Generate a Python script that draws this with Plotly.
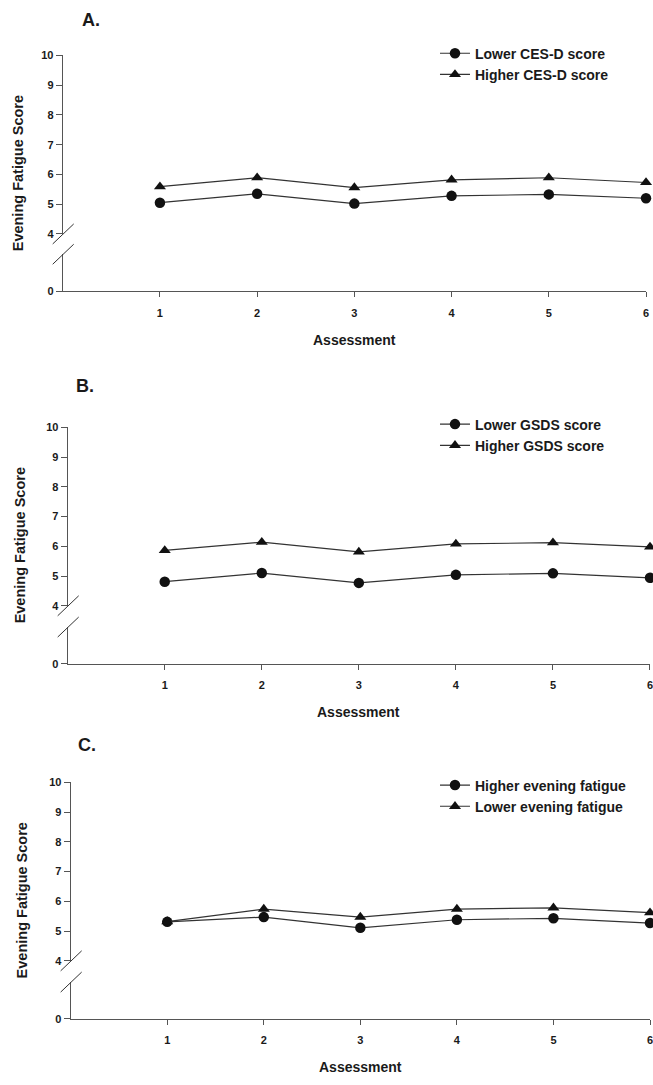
import plotly.graph_objects as go

W, H = 653, 1085

assessments = [1, 2, 3, 4, 5, 6]

a_lower_cesd = [5.05, 5.35, 5.02, 5.28, 5.33, 5.20]
a_higher_cesd = [5.59, 5.89, 5.56, 5.82, 5.89, 5.73]

b_lower_gsds = [4.81, 5.10, 4.77, 5.04, 5.09, 4.94]
b_higher_gsds = [5.86, 6.14, 5.81, 6.08, 6.12, 5.98]

c_higher_fatigue = [5.31, 5.47, 5.11, 5.38, 5.43, 5.27]
c_lower_fatigue = [5.32, 5.74, 5.47, 5.74, 5.78, 5.62]

panel_labels = ["A.", "B.", "C."]
legend_names = [
    ("Lower CES-D score", "Higher CES-D score"),
    ("Lower GSDS score", "Higher GSDS score"),
    ("Higher evening fatigue", "Lower evening fatigue"),
]
series = [
    (a_lower_cesd, a_higher_cesd),
    (b_lower_gsds, b_higher_gsds),
    (c_higher_fatigue, c_lower_fatigue),
]
upper_ticks = [4, 5, 6, 7, 8, 9, 10]

FONT = "Liberation Sans, Arial, sans-serif"
TXT = "#1a1a1a"
AX = "#555555"
LN = "#333333"

geo = [
    dict(left=63, right=649, top=50, four=230.5, ltop=251, bottom=288.5, ytx=18, lab_x=80, lab_y=14, leg=32, legx=437),
    dict(left=68, right=653, top=426, four=606.5, ltop=628, bottom=665, ytx=21, lab_x=74, lab_y=384, leg=407, legx=437),
    dict(left=71, right=653, top=785, four=965.5, ltop=987, bottom=1024, ytx=23, lab_x=76, lab_y=747, leg=772, legx=437),
]

def py(p):
    return 1 - p / H

def px(p):
    return p / W

fig = go.Figure()
layout = dict(
    width=W, height=H, margin=dict(l=0, r=0, t=0, b=0),
    paper_bgcolor="white", plot_bgcolor="white",
    font=dict(family=FONT, color=TXT),
    shapes=[], annotations=[],
)

for i, g in enumerate(geo):
    xa = "x" if i == 0 else f"x{i+1}"
    yu_n = 2 * i + 1
    yl_n = 2 * i + 2
    yu = "y" if yu_n == 1 else f"y{yu_n}"
    yl = f"y{yl_n}"
    leg = "legend" if i == 0 else f"legend{i+1}"
    low, high = series[i]
    n1, n2 = legend_names[i]

    fig.add_trace(go.Scatter(
        x=assessments, y=low, name=n1, mode="lines+markers",
        xaxis=xa, yaxis=yu, legend=leg, cliponaxis=False,
        line=dict(color=LN, width=1.2),
        marker=dict(symbol="circle", size=10.5, color="#111111"),
    ))
    fig.add_trace(go.Scatter(
        x=assessments, y=high, name=n2, mode="lines+markers",
        xaxis=xa, yaxis=yu, legend=leg, cliponaxis=False,
        line=dict(color=LN, width=1.2),
        marker=dict(symbol="triangle-up", size=10.5, color="#111111"),
    ))
    fig.add_trace(go.Scatter(x=[], y=[], xaxis=xa, yaxis=yl, showlegend=False,
                             hoverinfo="skip"))

    xkey = "xaxis" if i == 0 else f"xaxis{i+1}"
    yukey = "yaxis" if yu_n == 1 else f"yaxis{yu_n}"
    ylkey = f"yaxis{yl_n}"
    ppu = (g["four"] - g["top"]) / 6.0

    layout[xkey] = dict(
        domain=[px(g["left"]), px(g["right"])], range=[0, 6],
        anchor=yl, showline=True, linecolor=AX, linewidth=1,
        ticks="outside", ticklen=5, tickcolor=AX, tickwidth=1,
        tickvals=assessments, showgrid=False, zeroline=False,
        tickfont=dict(size=11, weight="bold", color=TXT),
        ticklabelstandoff=6, ticklabeloverflow="allow",
    )
    layout[yukey] = dict(
        domain=[py(g["four"]), py(g["top"])], range=[4, 10],
        anchor=xa, showline=True, linecolor=AX, linewidth=1,
        ticks="outside", ticklen=6, tickcolor=AX, tickwidth=1,
        tickvals=upper_ticks, showgrid=False, zeroline=False,
        tickfont=dict(size=11, weight="bold", color=TXT),
    )
    layout[ylkey] = dict(
        domain=[py(g["bottom"]), py(g["ltop"])],
        range=[0, (g["bottom"] - g["ltop"]) / ppu],
        anchor=xa, showline=True, linecolor=AX, linewidth=1,
        ticks="outside", ticklen=6, tickcolor=AX, tickwidth=1,
        tickvals=[0], showgrid=False, zeroline=False,
        tickfont=dict(size=11, weight="bold", color=TXT),
    )
    layout[leg] = dict(
        x=px(g["legx"]), xanchor="left",
        y=py(g["leg"]), yanchor="top",
        bgcolor="rgba(0,0,0,0)", borderwidth=0,
        font=dict(size=14, weight="bold", color=TXT, family=FONT),
        tracegroupgap=0, itemsizing="trace",
    )

    for ref, anc in ((f"{yu} domain", 0), (f"{yl} domain", 1)):
        layout["shapes"].append(dict(
            type="line", xref="paper", xsizemode="pixel", xanchor=px(g["left"]),
            x0=-10, x1=11, yref=ref, ysizemode="pixel", yanchor=anc,
            y0=-10, y1=10, line=dict(color=LN, width=1),
        ))

    layout["annotations"].append(dict(
        text=panel_labels[i], xref="paper", yref="paper",
        x=px(g["lab_x"]), y=py(g["lab_y"]), xanchor="left", yanchor="middle",
        showarrow=False, font=dict(size=18, weight="bold", color=TXT),
    ))
    layout["annotations"].append(dict(
        text="Evening Fatigue Score", xref="paper", yref="paper",
        x=px(g["ytx"]), y=py((g["top"] + g["bottom"]) / 2),
        xanchor="center", yanchor="middle", textangle=-90,
        showarrow=False, font=dict(size=14.5, weight="bold", color=TXT),
    ))
    layout["annotations"].append(dict(
        text="Assessment", xref="paper", yref="paper",
        x=px((g["left"] + g["right"]) / 2), y=py(g["bottom"] + 49),
        xanchor="center", yanchor="middle",
        showarrow=False, font=dict(size=14, weight="bold", color=TXT),
    ))

fig.update_layout(**layout)
fig.write_html(
    "out.html",
    config={"displayModeBar": False},
    post_script="document.body.style.margin='0';document.body.style.overflow='hidden';",
)
